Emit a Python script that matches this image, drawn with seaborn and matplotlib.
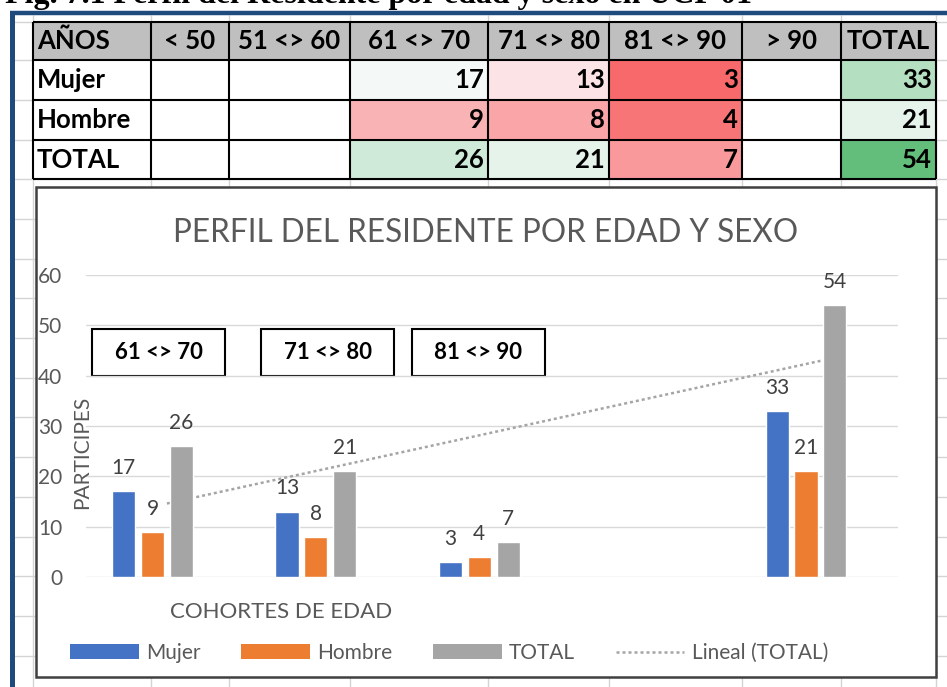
import numpy as np
import pandas as pd
import matplotlib
matplotlib.use("Agg")
import matplotlib.pyplot as plt
import seaborn as sns
from matplotlib.colors import LinearSegmentedColormap, TwoSlopeNorm
from matplotlib.patches import Rectangle, Patch
from matplotlib.lines import Line2D

# ---- data ----
ages = ["< 50", "51 <> 60", "61 <> 70", "71 <> 80", "81 <> 90", "> 90", "TOTAL"]
row_names = ["Mujer", "Hombre", "TOTAL"]
mujer = [np.nan, np.nan, 17, 13, 3, np.nan, 33]
hombre = [np.nan, np.nan, 9, 8, 4, np.nan, 21]
total = [np.nan, np.nan, 26, 21, 7, np.nan, 54]

fig_title = "Fig. 7.1 Perfil del Residente por edad y sexo en UCP 01"
chart_title = "PERFIL DEL RESIDENTE POR EDAD Y SEXO"
x_title = "COHORTES DE EDAD"
y_title = "PARTICIPES"
trend_name = "Lineal (TOTAL)"
yticks = [0, 10, 20, 30, 40, 50, 60]

# the chart only uses the groups from 61 upwards
chart_cats = ages[2:]
boxed_cats = ages[2:5]

# ---- styles ----
series_colors = ["#4472C4", "#ED7D31", "#A5A5A5"]
scale_colors = ["#F8696B", "#FCFCFF", "#63BE7B"]  # excel red-white-green scale
text_gray = "#595959"
label_gray = "#404040"
sheet_grid = "#D4D4D4"
frame_blue = "#1F4A7E"

# ---- layout (pixels of the 947x687 picture) ----
W, H = 947, 687
col_edges = [33, 151, 229, 350, 488, 609, 742, 841, 936]
row_edges = [22, 60, 100, 140, 179]
sheet_rows = row_edges + list(np.arange(219, H, 39.7))
plot_l, plot_r, plot_t, plot_b = 86, 898, 275, 577
box_x = [92, 261, 412]

sns.set_theme(style="white")
plt.rcParams["font.family"] = ["Lato", "DejaVu Sans"]

fig = plt.figure(figsize=(W / 100, H / 100), dpi=100)
fig.patch.set_facecolor("white")

# background axes in pixel coordinates: sheet, table, chart frame
bg = fig.add_axes([0, 0, 1, 1])
bg.set_xlim(0, W)
bg.set_ylim(H, 0)
bg.axis("off")

# caption of the document, cut by the top of the screenshot
bg.text(5, 3, fig_title, family="Liberation Serif", weight="bold",
        fontsize=23, ha="left", va="baseline", color="black")

# excel sheet gridlines
bg.vlines(col_edges, 15, H, color=sheet_grid, lw=1, zorder=1)
bg.hlines(sheet_rows, 14, W, color=sheet_grid, lw=1, zorder=1)

# blue frame of the screenshot
bg.plot([11.5, 11.5], [13, H], color=frame_blue, lw=3.6, solid_capstyle="butt", zorder=8)
bg.plot([9.5, W], [13, 13], color=frame_blue, lw=3.2, solid_capstyle="butt", zorder=8)

# ---- table ----
vals = np.array([mujer, hombre, total], dtype=float)
cmap = LinearSegmentedColormap.from_list("excel3", scale_colors)
norm = TwoSlopeNorm(vmin=np.nanmin(vals), vcenter=np.nanmedian(vals), vmax=np.nanmax(vals))

bg.add_patch(Rectangle((col_edges[0], row_edges[0]), col_edges[-1] - col_edges[0],
                       row_edges[1] - row_edges[0], fc="#BFBFBF", ec="none", zorder=2))
bg.add_patch(Rectangle((col_edges[0], row_edges[1]), col_edges[-1] - col_edges[0],
                       row_edges[-1] - row_edges[1], fc="white", ec="none", zorder=2))
bg.pcolormesh(col_edges[1:], row_edges[1:], np.ma.masked_invalid(vals),
              cmap=cmap, norm=norm, zorder=2.5)
bg.vlines(col_edges, row_edges[0], row_edges[-1], color="black", lw=1.5, zorder=3)
bg.hlines(row_edges, col_edges[0], col_edges[-1], color="black", lw=1.5, zorder=3)

tab_font = dict(weight="bold", fontsize=18.5, color="black", zorder=4)
head_y = (row_edges[0] + row_edges[1]) / 2
bg.text(col_edges[0] + 4, head_y, "AÑOS", ha="left", va="center", **tab_font)
for i, lab in enumerate(ages):
    xc = (col_edges[i + 1] + col_edges[i + 2]) / 2
    bg.text(xc, head_y, lab, ha="center", va="center", **tab_font)
for r, name in enumerate(row_names):
    yc = (row_edges[r + 1] + row_edges[r + 2]) / 2
    bg.text(col_edges[0] + 4, yc, name, ha="left", va="center", **tab_font)
    for c, v in enumerate(vals[r]):
        if not np.isnan(v):
            bg.text(col_edges[c + 2] - 4, yc, f"{v:.0f}", ha="right", va="center", **tab_font)

# ---- chart frame, title, text boxes ----
bg.add_patch(Rectangle((35.5, 187), 900, 490, fc="white", ec="#404040", lw=1.8, zorder=5))
bg.text(486, 242, chart_title, ha="center", va="baseline", fontsize=22.7,
        color=text_gray, zorder=6)
for bx, cat in zip(box_x, boxed_cats):
    bg.add_patch(Rectangle((bx, 329), 133, 47, fc="white", ec="black", lw=1.5, zorder=6))
    bg.text(bx + 66.5, 352.5, cat, ha="center", va="center", weight="bold",
            fontsize=16, color="black", zorder=7)

handles = [Patch(fc=c, ec="none") for c in series_colors]
handles.append(Line2D([], [], color="#A5A5A5", lw=1.8, ls=(0, (1.2, 1.2))))
leg = bg.legend(handles, row_names + [trend_name], loc="center",
                bbox_to_anchor=(449, 653), bbox_transform=bg.transData, ncol=4,
                frameon=False, fontsize=15, handlelength=3.3, handletextpad=0.35,
                columnspacing=1.95, labelcolor=text_gray)
leg.set_zorder(7)

# ---- bar chart ----
ax = fig.add_axes([plot_l / W, (H - plot_b) / H, (plot_r - plot_l) / W, (plot_b - plot_t) / H])
ax.patch.set_alpha(0)

df = pd.DataFrame({
    "cohorte": chart_cats * 3,
    "serie": np.repeat(row_names, len(chart_cats)),
    "n": mujer[2:] + hombre[2:] + total[2:],
}).dropna()

bar_width = 0.53
sns.barplot(data=df, x="cohorte", y="n", hue="serie", order=chart_cats,
            hue_order=row_names, palette=series_colors, saturation=1,
            width=bar_width, gap=0.2, errorbar=None, legend=False, ax=ax, zorder=2)

for cont in ax.containers:
    ax.bar_label(cont, fmt="%.0f", padding=9.5, color=label_gray, fontsize=15)

# linear trendline of TOTAL; excel puts it at the category centre, which sits
# half a bar step right of the middle bar (the cluster has an empty 4th slot)
pos = np.arange(len(chart_cats))
y_tot = np.array(total[2:], dtype=float)
ok = ~np.isnan(y_tot)
coef = np.polyfit(pos[ok], y_tot[ok], 1)
step = bar_width / 3
ax.plot(pos + step / 2, np.polyval(coef, pos), color="#A5A5A5", lw=1.8,
        ls=(0, (1.2, 1.2)), zorder=1.5)

ax.set_xlim(-0.407, 4.563)
ax.set_ylim(0, 60)
ax.set_yticks(yticks)
ax.grid(axis="y", color="#D9D9D9", lw=1)
ax.set_axisbelow(True)
sns.despine(ax=ax, left=True, bottom=True)
ax.tick_params(axis="x", length=0, labelbottom=False)
ax.tick_params(axis="y", length=0, pad=17, labelsize=15, labelcolor=text_gray)

ax.set_ylabel(y_title, fontsize=15, color=text_gray)
ax.yaxis.set_label_coords(0.007, 0.414)
ax.set_xlabel(x_title, fontsize=16, color=text_gray)
ax.xaxis.set_label_coords(0.240, -0.082)

fig.savefig("out.png", dpi=100)
